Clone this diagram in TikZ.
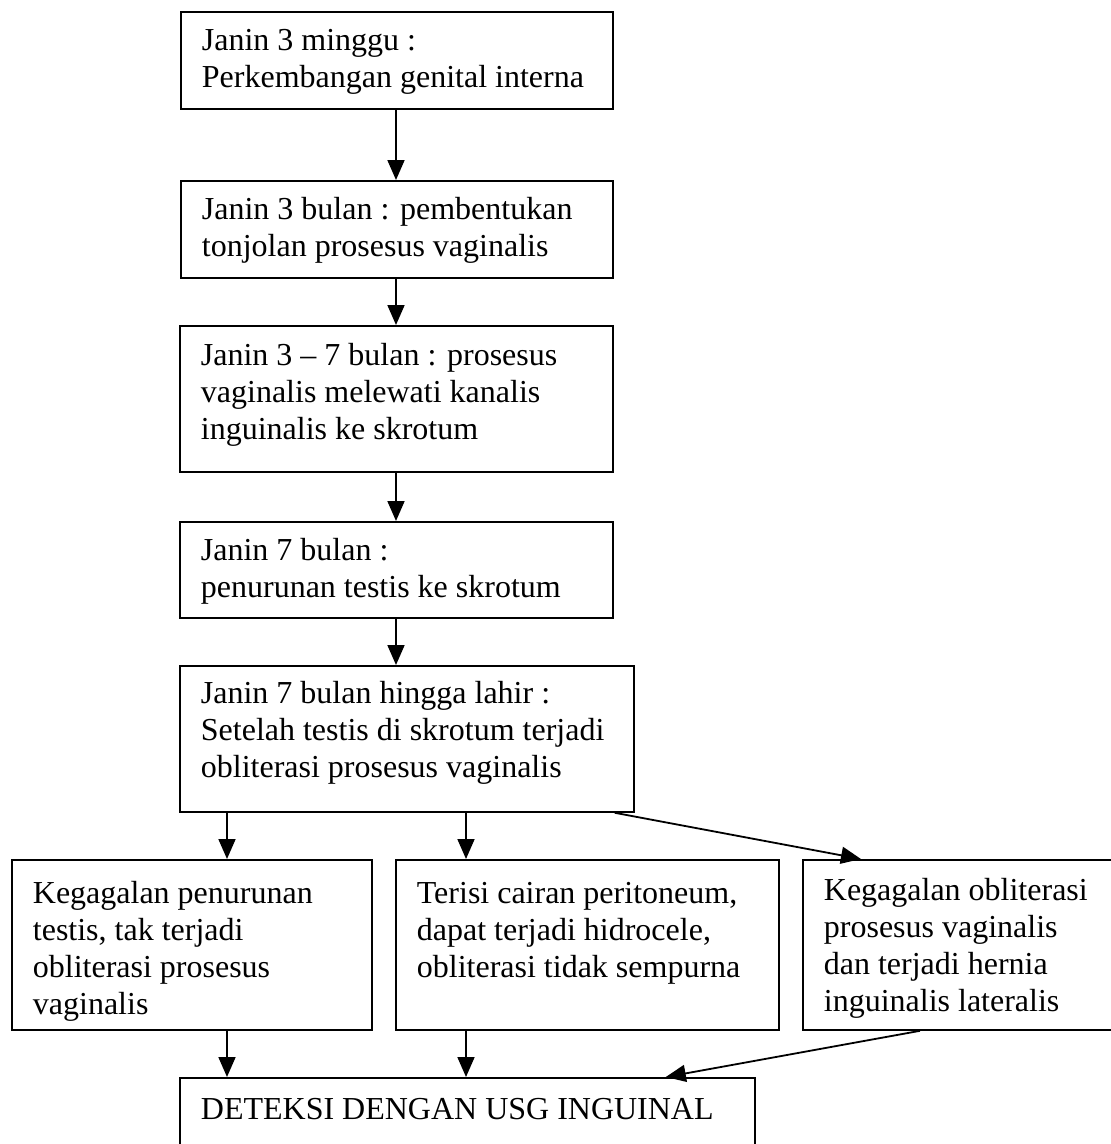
\documentclass[tikz,border=0pt]{standalone}
\usepackage{fontspec}
\setmainfont{Liberation Serif}
\usetikzlibrary{arrows.meta}
\newcommand{\bxt}[4][39pt]{\parbox[t][#3][t]{#2}{\fontsize{32pt}{37pt}\selectfont\parindent=0pt\leftskip=21pt\rightskip=0pt plus 1fil\rule{0pt}{#1}#4}}
\tikzset{
  box/.style={draw=black, line width=1.8pt, inner sep=0pt, anchor=north west, fill=white},
  arr/.style={line width=1.8pt, -{Triangle[length=20pt,width=17pt]}, shorten >=0pt}
}
\begin{document}
\begin{tikzpicture}[x=1pt,y=-1pt]
\useasboundingbox[fill=white] (0,0) rectangle (1111,1144);
\begin{scope}
\clip (0,0) rectangle (1111,1144);
\node[box] (b1) at (180,11) {\bxt{432pt}{97pt}{Janin 3 minggu :\\Perkembangan genital interna}};
\node[box] (b2) at (180,180) {\bxt{432pt}{97pt}{Janin 3 bulan : pembentukan\\tonjolan prosesus vaginalis}};
\node[box] (b3) at (179,325) {\bxt[40pt]{433pt}{146pt}{Janin 3 -- 7 bulan : prosesus\\vaginalis melewati kanalis\\inguinalis ke skrotum}};
\node[box] (b4) at (179,521) {\bxt{433pt}{96pt}{Janin 7 bulan :\\penurunan testis ke skrotum}};
\node[box] (b5) at (179,665) {\bxt[38pt]{454pt}{146pt}{Janin 7 bulan hingga lahir :\\Setelah testis di skrotum terjadi\\obliterasi prosesus vaginalis}};
\node[box] (b6) at (11,859) {\bxt[44pt]{360pt}{170pt}{Kegagalan penurunan\\testis, tak terjadi\\obliterasi prosesus\\vaginalis}};
\node[box] (b7) at (395,859) {\bxt[44pt]{383pt}{170pt}{Terisi cairan peritoneum,\\dapat terjadi hidrocele,\\obliterasi tidak sempurna}};
\node[box] (b8) at (802,859) {\bxt[41pt]{315pt}{170pt}{Kegagalan obliterasi\\prosesus vaginalis\\dan terjadi hernia\\inguinalis lateralis}};
\node[box] (b9) at (179,1077) {\bxt[42pt]{575pt}{110pt}{DETEKSI DENGAN USG INGUINAL}};
\coordinate (xm) at (396,0);
\coordinate (xl) at (227,0);
\coordinate (xc) at (466,0);
\draw[arr] (xm |- b1.south) -- (xm |- b2.north);
\draw[arr] (xm |- b2.south) -- (xm |- b3.north);
\draw[arr] (xm |- b3.south) -- (xm |- b4.north);
\draw[arr] (xm |- b4.south) -- (xm |- b5.north);
\draw[arr] (xl |- b5.south) -- (xl |- b6.north);
\draw[arr] (xc |- b5.south) -- (xc |- b7.north);
\draw[arr] ([xshift=-20pt]b5.south east) -- ([xshift=59pt]b8.north west);
\draw[arr] (xl |- b6.south) -- (xl |- b9.north);
\draw[arr] (xc |- b7.south) -- (xc |- b9.north);
\draw[arr] ([xshift=118pt]b8.south west) -- ([xshift=-90pt]b9.north east);
\end{scope}
\end{tikzpicture}
\end{document}
